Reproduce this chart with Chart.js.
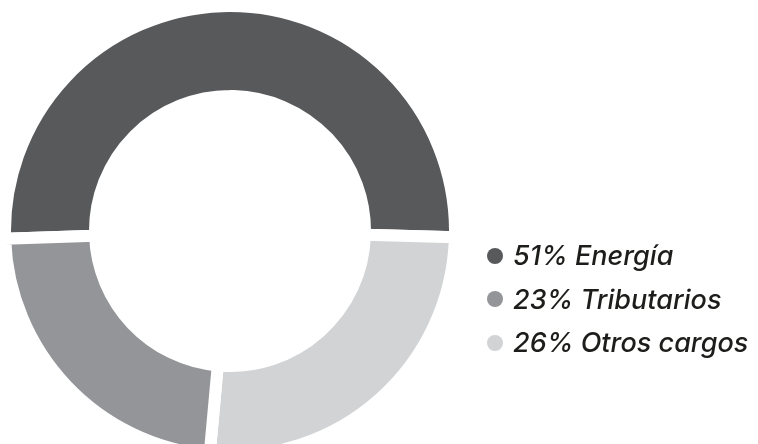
<!DOCTYPE html>
<html>
<head>
<meta charset="utf-8">
<script src="https://cdn.jsdelivr.net/npm/chart.js@4/dist/chart.umd.min.js"></script>
<style>
  html, body { margin: 0; padding: 0; background: #fff; }
  #wrap { position: relative; width: 758px; height: 444px; overflow: hidden; }
  #chart { position: absolute; left: -20px; top: 0; }
  #legend { position: absolute; left: 487px; top: 234px; margin: 0; padding: 0; list-style: none; }
  #legend li { display: flex; align-items: center; height: 43.5px; font-family: "Inter", sans-serif; font-style: italic; font-weight: 500; font-size: 27px; letter-spacing: 0; color: #1d1d1b; white-space: nowrap; }
  #legend .dot { width: 16px; height: 16px; border-radius: 50%; margin-right: 10px; flex: none; }
</style>
</head>
<body>
<div id="wrap">
  <canvas id="chart" width="778" height="482"></canvas>
  <ul id="legend"></ul>
</div>
<script>
// drawing order around the ring (clockwise from the left)
const names = ["Energía", "Otros cargos", "Tributarios"];
const values = [51, 26, 23];
const colors = ["#58595b", "#d1d3d4", "#939598"];
// order in the legend
const legendOrder = ["Energía", "Tributarios", "Otros cargos"];

const ctx = document.getElementById("chart");

// white border = the gaps between slices
const chart = new Chart(ctx, {
  type: "doughnut",
  data: {
    labels: names,
    datasets: [{
      data: values,
      backgroundColor: colors,
      borderColor: "#ffffff",
      borderWidth: 12,
      hoverOffset: 0,
    }],
  },
  options: {
    responsive: false,
    animation: false,
    rotation: -92,
    cutout: "60%",
    layout: { padding: { left: 19, top: 0, right: 297, bottom: 20 } },
    plugins: {
      legend: { display: false },
      tooltip: { enabled: false },
    },
  },
});

// html legend
const legend = document.getElementById("legend");
legendOrder.forEach((name) => {
  const i = names.indexOf(name);
  const li = document.createElement("li");
  const dot = document.createElement("span");
  dot.className = "dot";
  dot.style.background = colors[i];
  li.appendChild(dot);
  li.appendChild(document.createTextNode(values[i] + "% " + name));
  legend.appendChild(li);
});
</script>
</body>
</html>
